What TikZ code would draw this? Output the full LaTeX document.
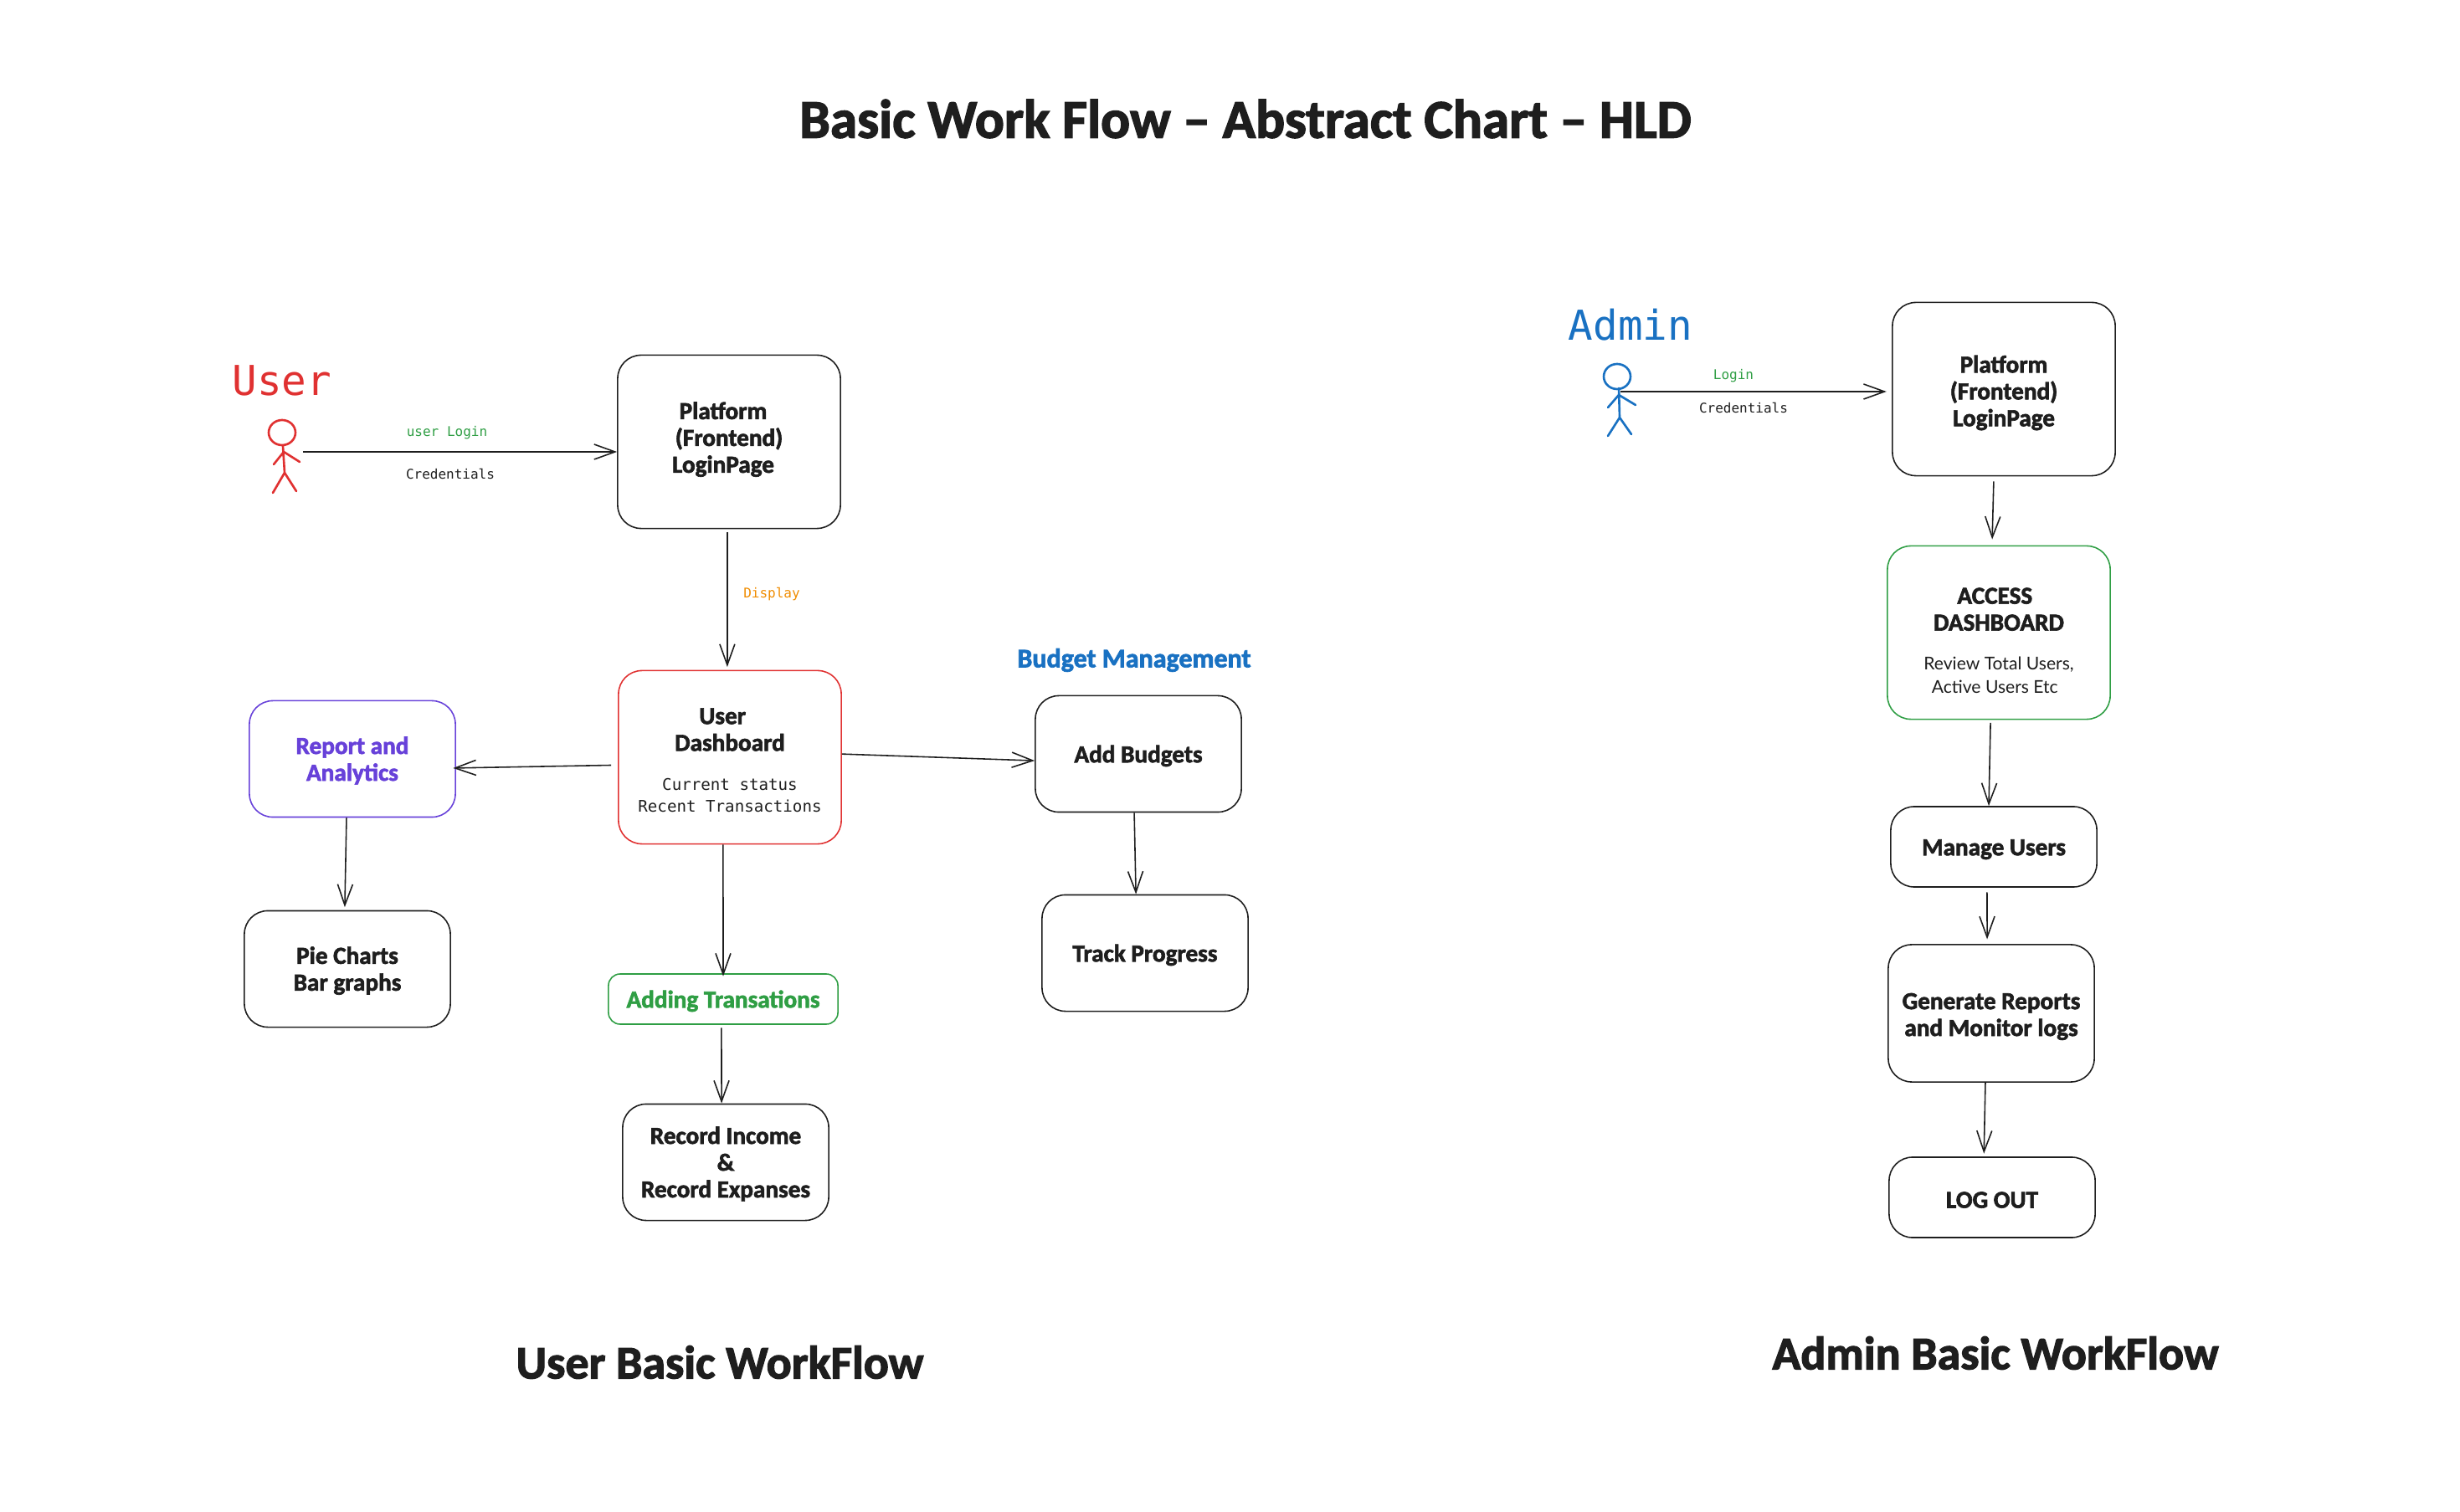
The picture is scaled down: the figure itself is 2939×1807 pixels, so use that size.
\documentclass[tikz,border=0pt]{standalone}
\usepackage{fontspec}
\usetikzlibrary{arrows.meta}
\setmainfont{Lato}
\setmonofont{DejaVu Sans Mono}
\newfontfamily\heavyfont[UprightFont=* Bold,FakeBold=2.2]{Carlito}
\definecolor{inkc}{HTML}{1E1E1E}
\definecolor{redc}{HTML}{E03131}
\definecolor{greenc}{HTML}{2F9E44}
\definecolor{bluec}{HTML}{1971C2}
\definecolor{purplec}{HTML}{6741D9}
\definecolor{orangec}{HTML}{F08C00}
\tikzset{
	flowbox/.style={draw=inkc, line width=0.45pt, rounded corners=0.28cm, align=center, text=inkc, inner sep=0pt, font=\heavyfont\fontsize{8.3}{9.1}\selectfont, execute at begin node={\rule{0pt}{7.2pt}}},
	bigbox/.style={flowbox, minimum width=2.66cm, minimum height=2.07cm},
	midbox/.style={flowbox, minimum width=2.46cm, minimum height=1.39cm},
	lowbox/.style={flowbox, minimum width=2.46cm, minimum height=0.96cm},
	flow/.style={draw=inkc, line width=0.45pt, -{Straight Barb[length=0.25cm, width=0.18cm]}},
	stick/.style={line width=0.75pt, line cap=round, line join=round},
	heading/.style={text=inkc, inner sep=0pt, font=\heavyfont\fontsize{15.9}{18}\selectfont},
	note/.style={inner sep=0pt, font=\ttfamily\fontsize{4.55}{5}\selectfont},
	who/.style={inner sep=0pt, font=\ttfamily\fontsize{14}{15}\selectfont},
}
\newcommand{\subline}[1]{{\normalfont\fontsize{6}{8}\selectfont #1}}
\newcommand{\subcode}[1]{{\ttfamily\fontsize{5.45}{7.4}\selectfont #1}}
\newcommand{\topgap}[1]{\rule{0pt}{#1pt}}
\begin{document}
\begin{tikzpicture}[x=0.01cm, y=-0.01cm]
	\useasboundingbox (0,0) rectangle (2939,1807);
%	title and footers
	\node[heading, font=\heavyfont\fontsize{18.55}{24}\selectfont] (title) at (1488,142) {Basic Work Flow \textendash{} Abstract Chart \textendash{} HLD};
	\node[heading] (userfoot) at (860,1628) {User Basic WorkFlow};
	\node[heading] (adminfoot) at (2384,1617) {Admin Basic WorkFlow};
%	user side
	\node[who, text=redc] (userlabel) at (337,455) {User};
	\draw[stick, redc] (337,517) ellipse (16 and 15);
	\draw[stick, redc] (338,533) -- (340,565) (327,555) -- (339,540) -- (358,552) (326,589) -- (340,565) -- (354,587);
	\coordinate (userhand) at (362,540);
	\node[bigbox] (pfuser) at (871,528) {\topgap{7}Platform\hspace*{4pt}\\(Frontend)\hspace*{4pt}\\LoginPage\hspace*{4pt}\rule[-4.2pt]{0pt}{0pt}};
	\node[bigbox, draw=redc] (userdash) at (872,905) {\topgap{7.4}User\hspace*{5pt}\\Dashboard\hspace*{5pt}\\[4.2pt]\subcode{Current status}\\[-1.6pt]\subcode{Recent Transactions}};
	\node[midbox, draw=purplec, text=purplec] (report) at (421,907) {\topgap{7}Report and\\Analytics};
	\node[midbox] (piechart) at (415,1158) {\topgap{7}Pie Charts\\Bar graphs};
	\node[flowbox, draw=greenc, text=greenc, rounded corners=0.14cm, minimum width=2.74cm, minimum height=0.6cm] (adding) at (864,1194) {Adding Transations};
	\node[midbox] (record) at (867,1389) {\topgap{7}Record Income\\\&\\Record Expanses};
	\node[midbox] (addbudget) at (1360,901) {Add Budgets};
	\node[midbox] (track) at (1368,1139) {Track Progress};
	\node[inner sep=0pt, text=bluec, font=\heavyfont\fontsize{9.1}{9}\selectfont] (budgetlabel) at (1355,789) {Budget Management};
	\node[note, text=greenc] (userlogin) at (534,517) {user Login};
	\node[note, text=inkc] (usercred) at (538,566) {Credentials};
	\node[note, text=orangec] (display) at (922,710) {Display};
	\draw[flow] (userhand) -- (pfuser.west |- userhand);
	\draw[flow, shorten <=1pt, shorten >=1pt] ([xshift=-0.6pt]pfuser.south) -- ([xshift=-0.6pt]pfuser.south |- userdash.north);
	\draw[flow, shorten >=-1pt] ([xshift=-2.3pt,yshift=-2.7pt]userdash.west) -- ([yshift=-3.1pt]report.east);
	\draw[flow] ([yshift=1.1pt]userdash.east) -- ([yshift=-2.3pt]addbudget.west);
	\draw[flow] ([xshift=-1.4pt]addbudget.south) -- ([xshift=-3.1pt]track.north);
	\draw[flow, shorten >=-1pt] ([xshift=-2.3pt]userdash.south) -- (adding.north);
	\draw[flow, shorten <=1pt] ([xshift=-0.6pt]adding.south) -- ([xshift=-1.4pt]record.north);
	\draw[flow, shorten >=1pt] ([xshift=-2pt]report.south) -- ([xshift=-0.9pt]piechart.north);
%	admin side
	\node[who, text=bluec] (adminlabel) at (1948,388) {Admin};
	\draw[stick, bluec] (1932,450) ellipse (16 and 15);
	\draw[stick, bluec] (1934,464) -- (1935,499) (1921,487) -- (1934,472) -- (1954,484) (1921,521) -- (1935,499) -- (1949,519);
	\coordinate (adminhand) at (1936,468);
	\node[bigbox] (pfadmin) at (2394,465) {\topgap{8.4}Platform\\(Frontend)\\LoginPage};
	\node[bigbox, draw=greenc] (access) at (2388,756) {\topgap{10.8}ACCESS\hspace*{2.7pt}\\DASHBOARD\hspace*{2.7pt}\\[4.1pt]\subline{Review Total Users,}\hspace*{2.7pt}\\[-1.1pt]\subline{Active Users Etc}\hspace*{2.7pt}};
	\node[lowbox] (manage) at (2382,1012) {Manage Users};
	\node[midbox, minimum height=1.64cm] (reports) at (2379,1211) {\topgap{7.7}Generate Reports\\and Monitor logs};
	\node[lowbox] (logout) at (2380,1431) {LOG OUT};
	\node[note, text=greenc] (adminlogin) at (2071,449) {Login};
	\node[note, text=inkc] (admincred) at (2083,488) {Credentials};
	\draw[flow, shorten >=1.8pt] (adminhand) -- (pfadmin.west |- adminhand);
	\draw[flow, shorten <=1.7pt, shorten >=2pt] ([xshift=-3.4pt]pfadmin.south) -- ([xshift=-2.3pt]access.north);
	\draw[flow, shorten <=1pt] ([xshift=-2.8pt]access.south) -- ([xshift=-1.7pt]manage.north);
	\draw[flow, shorten <=1.6pt, shorten >=1.6pt] ([xshift=-2.3pt]manage.south) -- ([xshift=-1.4pt]reports.north);
	\draw[flow, shorten >=1pt] ([xshift=-2pt]reports.south) -- ([xshift=-2.8pt]logout.north);
\end{tikzpicture}
\end{document}
